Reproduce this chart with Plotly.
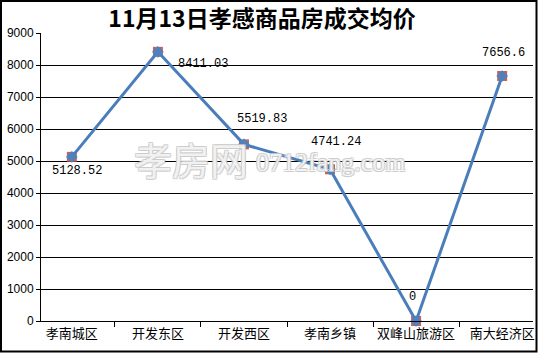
import plotly.graph_objects as go

categories = ["孝南城区", "开发东区", "开发西区", "孝南乡镇", "双峰山旅游区", "南大经济区"]
prices = [5128.52, 8411.03, 5519.83, 4741.24, 0, 7656.6]
label_texts = ["5128.52", "8411.03", "5519.83", "4741.24", "0", "7656.6"]
label_shift_x = [5, 45, 18, 6, -4, 1]
label_shift_y = [-14, -12, 25, 27, 24, 23]
y_ticks = [0, 1000, 2000, 3000, 4000, 5000, 6000, 7000, 8000, 9000]
title_text = "11月13日孝感商品房成交均价"

W, H = 538, 353
ML, MR, MT, MB = 41, 5, 33, 32
PW, PH = W - ML - MR, H - MT - MB

fig = go.Figure()
fig.add_trace(go.Scatter(
    x=categories, y=prices, mode="markers",
    marker=dict(symbol="square", size=10, color="rgba(192,80,77,0.9)", line=dict(width=0)),
    cliponaxis=False, showlegend=False, hoverinfo="skip"))
fig.add_trace(go.Scatter(
    x=categories, y=prices, mode="lines+markers",
    line=dict(color="#4A7EBB", width=3),
    marker=dict(symbol="diamond", size=9, color="#4F81BD"),
    cliponaxis=False, showlegend=False))

for c, v, t, dx, dy in zip(categories, prices, label_texts, label_shift_x, label_shift_y):
    fig.add_annotation(x=c, y=v, text=t, showarrow=False, xshift=dx, yshift=dy,
                       font=dict(family="Liberation Mono, DejaVu Sans Mono", size=12, color="black"))

# watermark
wm_shadow = "-1px -1px 0 #c8c8c8, 1px -1px 0 #c8c8c8, -1px 1px 0 #c8c8c8, 1px 1px 0 #c8c8c8"
fig.add_annotation(xref="paper", yref="paper", x=(191 - ML) / PW, y=(H - MB - 158) / PH,
                   xanchor="center", yanchor="middle",
                   text="孝房网", showarrow=False,
                   font=dict(family="Noto Sans CJK SC", size=38, color="rgba(255,255,255,0.75)", shadow=wm_shadow))
fig.add_annotation(xref="paper", yref="paper", x=(254 - ML) / PW, y=(H - MB - 162) / PH,
                   xanchor="left", yanchor="middle",
                   text="0712fang.com", showarrow=False,
                   font=dict(family="Liberation Serif", size=26, color="rgba(255,255,255,0.75)", shadow=wm_shadow))

fig.update_layout(
    width=W, height=H,
    margin=dict(l=ML, r=MR, t=MT, b=MB),
    paper_bgcolor="white", plot_bgcolor="white",
    title=dict(text="<b>" + title_text + "</b>", x=262 / W, xanchor="center", y=1 - 19 / H, yanchor="middle",
               font=dict(family="Noto Sans CJK SC", size=23, color="black")),
    xaxis=dict(type="category", tickson="boundaries", ticks="outside", ticklen=5, tickcolor="black",
               showgrid=False, showline=True, linecolor="black", linewidth=1, tickangle=0, automargin=False,
               tickfont=dict(family="Noto Sans CJK SC", size=13, color="black"), fixedrange=True),
    yaxis=dict(range=[0, 9000], tickvals=y_ticks, ticks="outside", ticklen=4, tickcolor="black",
               showgrid=True, gridcolor="black", gridwidth=1, showline=True, linecolor="black",
               zeroline=False, automargin=False,
               tickfont=dict(family="Liberation Sans, Arial", size=12, color="black"),
               fixedrange=True),
    shapes=[dict(type="rect", xref="paper", yref="paper",
                 x0=(-ML + 1) / PW, x1=(PW + MR - 1.5) / PW,
                 y0=(-MB + 1.5) / PH, y1=(PH + MT - 1) / PH,
                 line=dict(color="black", width=2))],
)

fig.write_html("out.html")
